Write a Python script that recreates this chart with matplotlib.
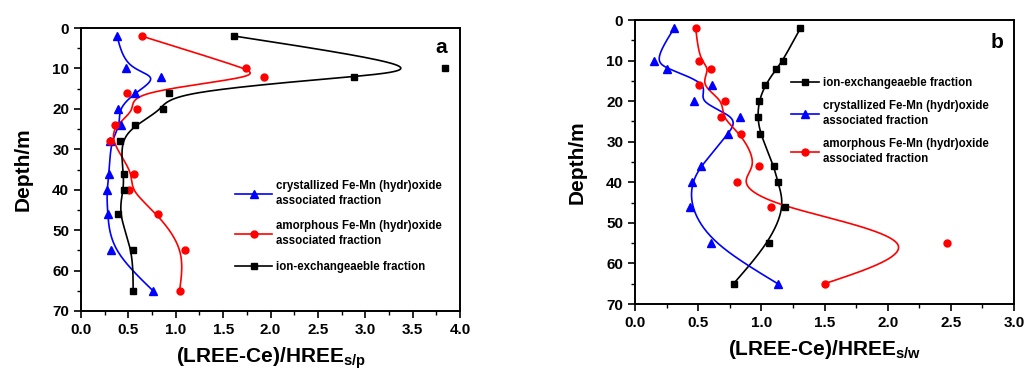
import numpy as np
import matplotlib
matplotlib.use("Agg")
import matplotlib.pyplot as plt

plt.rcParams['font.family'] = ['Liberation Sans', 'DejaVu Sans']
plt.rcParams['font.weight'] = 'bold'
plt.rcParams['mathtext.fontset'] = 'custom'
plt.rcParams['mathtext.rm'] = 'Liberation Sans:bold'
plt.rcParams['mathtext.bf'] = 'Liberation Sans:bold'
plt.rcParams['mathtext.default'] = 'rm'

# depths (m), shared by all series
depth = [2, 10, 12, 16, 20, 24, 28, 36, 40, 46, 55, 65]

# panel a: (LREE-Ce)/HREE s/p
a_cryst = [0.38, 0.47, 0.84, 0.57, 0.39, 0.42, 0.31, 0.30, 0.27, 0.28, 0.32, 0.76]
a_amorph = [0.64, 1.74, 1.93, 0.49, 0.59, 0.36, 0.31, 0.56, 0.51, 0.81, 1.10, 1.04]
a_ion = [1.62, 3.84, 2.88, 0.93, 0.87, 0.57, 0.41, 0.45, 0.45, 0.39, 0.55, 0.55]

# panel b: (LREE-Ce)/HREE s/w
b_ion = [1.31, 1.17, 1.12, 1.03, 0.98, 0.97, 0.99, 1.10, 1.13, 1.19, 1.06, 0.78]
b_cryst = [0.31, 0.15, 0.25, 0.61, 0.47, 0.83, 0.74, 0.52, 0.45, 0.435, 0.60, 1.13]
b_amorph = [0.48, 0.51, 0.60, 0.51, 0.71, 0.68, 0.84, 0.98, 0.81, 1.08, 2.47, 1.50]

lab_cryst = 'crystallized Fe-Mn (hydr)oxide\nassociated fraction'
lab_amorph = 'amorphous Fe-Mn (hydr)oxide\nassociated fraction'
lab_ion = 'ion-exchangeaeble fraction'


def bspline(xs, ys, num=40):
    # uniform cubic B-spline, data points as control points, ends pinned
    P = np.column_stack([xs, ys]).astype(float)
    Q = np.vstack([2 * P[0] - P[1], P, 2 * P[-1] - P[-2]])
    s = np.linspace(0, 1, num)[:, None]
    b0 = (1 - s) ** 3 / 6
    b1 = (3 * s ** 3 - 6 * s ** 2 + 4) / 6
    b2 = (-3 * s ** 3 + 3 * s ** 2 + 3 * s + 1) / 6
    b3 = s ** 3 / 6
    segs = [b0 * Q[i] + b1 * Q[i + 1] + b2 * Q[i + 2] + b3 * Q[i + 3] for i in range(len(P) - 1)]
    C = np.vstack(segs)
    return C[:, 0], C[:, 1]


def series(ax, x, color, marker, label, ms):
    cx, cy = bspline(x, depth)
    ax.plot(cx, cy, color=color, lw=1.2, zorder=2)
    ax.plot(x, depth, linestyle='none', marker=marker, color=color, ms=ms, zorder=3)
    ax.plot([], [], color=color, lw=1.2, marker=marker, ms=ms, label=label)


def style(ax, xmax, sub):
    ax.set_xlim(0, xmax)
    ax.set_ylim(70, 0)
    ax.set_xticks(np.arange(0, xmax + 0.01, 0.5))
    ax.set_xticks(np.arange(0, xmax + 0.01, 0.25), minor=True)
    ax.set_yticks(np.arange(0, 71, 10))
    ax.set_yticks(np.arange(0, 71, 5), minor=True)
    ax.xaxis.set_major_formatter(matplotlib.ticker.FormatStrFormatter('%.1f'))
    ax.tick_params(which='major', direction='out', length=5, width=1.2, labelsize=11)
    ax.tick_params(which='minor', direction='out', length=3, width=1.0)
    for s in ax.spines.values():
        s.set_linewidth(1.4)
    ax.set_xlabel('(LREE-Ce)/HREE$_{' + sub + '}$', fontsize=15, fontweight='bold', labelpad=6)
    ax.set_ylabel('Depth/m', fontsize=15, fontweight='bold', labelpad=14)


fig = plt.figure(figsize=(10.30, 3.74), dpi=100)

axa = fig.add_axes([81 / 1030, 63 / 374, 379 / 1030, 283 / 374])
series(axa, a_cryst, 'blue', '^', lab_cryst, 5.5)
series(axa, a_amorph, 'red', 'o', lab_amorph, 5)
series(axa, a_ion, 'black', 's', lab_ion, 4.5)
style(axa, 4.0, 's/p')
axa.text(0.95, 0.93, 'a', transform=axa.transAxes, fontsize=15, fontweight='bold', ha='center', va='center')
leg = axa.legend(loc='upper left', bbox_to_anchor=(0.395, 0.48), frameon=False, fontsize=8.3,
                 handlelength=3.2, handletextpad=0.35, labelspacing=1.15, borderaxespad=0)
for t in leg.get_texts():
    t.set_linespacing(1.35)

axb = fig.add_axes([635 / 1030, 70 / 374, 379 / 1030, 284 / 374])
series(axb, b_ion, 'black', 's', lab_ion, 4.5)
series(axb, b_cryst, 'blue', '^', lab_cryst, 5.5)
series(axb, b_amorph, 'red', 'o', lab_amorph, 5)
style(axb, 3.0, 's/w')
axb.text(0.955, 0.92, 'b', transform=axb.transAxes, fontsize=15, fontweight='bold', ha='center', va='center')
leg = axb.legend(loc='upper left', bbox_to_anchor=(0.40, 0.815), frameon=False, fontsize=8.3,
                 handlelength=2.4, handletextpad=0.35, labelspacing=0.95, borderaxespad=0)
for t in leg.get_texts():
    t.set_linespacing(1.35)

fig.savefig('out.png', dpi=100)
